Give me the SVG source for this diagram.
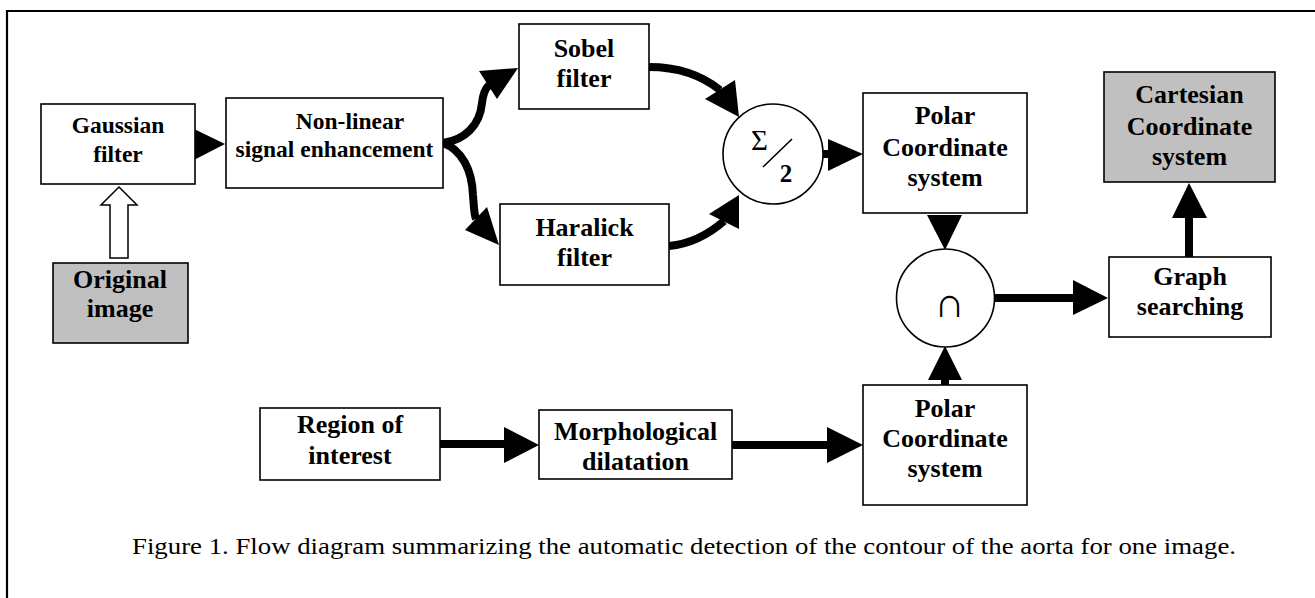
<svg xmlns="http://www.w3.org/2000/svg" width="1315" height="598" viewBox="0 0 1315 598">
<style>
.box{fill:#fff;stroke:#000;stroke-width:1.6}
.grey{fill:#c0c0c0;stroke:#000;stroke-width:1.6}
.lbl{font-family:'Liberation Serif','Times New Roman',serif;font-weight:bold;font-size:26px;text-anchor:middle;fill:#000}
.sm{font-size:23.5px}
.cap{font-family:'Liberation Serif','Times New Roman',serif;font-size:24px;fill:#000}
.sym{font-family:'Liberation Serif','DejaVu Serif',serif;text-anchor:middle;fill:#000}
.wire{fill:none;stroke:#000;stroke-width:8}
.head{fill:#000;stroke:none}
.circ{fill:#fff;stroke:#000;stroke-width:1.6}
</style>
<rect width="1315" height="598" fill="#fff"/>
<g id="frame"><path d="M7,598 V11 H1315" fill="none" stroke="#000" stroke-width="2.2"/></g>

<g id="connectors">
<polygon class="head" points="190,127 225,144 190,162"/>
<polygon points="110,258 128,258 128,205 137,205 119,187 101,205 110,205" fill="#fff" stroke="#000" stroke-width="1.5"/>
<path class="wire" d="M443,143 C465,140 480,125 482,103 C483,93 485,89 489,85"/>
<polygon class="head" points="479,71 518,68 497,99"/>
<path class="wire" d="M443,143 C462,150 472,170 473,195 C474,208 474,214 476,219"/>
<polygon class="head" points="465,230 487,207 499,245"/>
<path class="wire" d="M649,67 C675,67 700,74 720,90"/>
<polygon class="head" points="705,99 735,80 739,117"/>
<path class="wire" d="M669,246 C690,244 708,235 724,221"/>
<polygon class="head" points="709,214 739,195 739,229"/>
<path class="wire" d="M823,154 H830"/>
<polygon class="head" points="828,139 863,154 828,171"/>
<polygon class="head" points="927,215 962,215 945,250"/>
<path class="wire" d="M995,298 H1075"/>
<polygon class="head" points="1073,280 1108,298 1073,315"/>
<path class="wire" d="M1189,257 V215"/>
<polygon class="head" points="1172,218 1207,218 1189,183"/>
<path class="wire" d="M945,385 V377"/>
<polygon class="head" points="928,380 962,380 945,346"/>
<path class="wire" d="M440,444 H506"/>
<polygon class="head" points="504,427 539,445 504,463"/>
<path class="wire" d="M732,445 H829"/>
<polygon class="head" points="827,427 863,445 827,463"/>
</g>

<g id="gaussian"><rect class="box" x="41" y="104" width="154" height="80"/>
<text class="lbl sm" x="118" y="133">Gaussian</text><text class="lbl sm" x="118" y="162">filter</text></g>

<g id="original"><rect class="grey" x="53" y="263" width="135" height="80"/>
<text class="lbl" x="120" y="288">Original</text><text class="lbl" x="120" y="317">image</text></g>

<g id="nonlinear"><rect class="box" x="226" y="98" width="217" height="90"/>
<text class="lbl sm" x="350" y="129">Non-linear</text><text class="lbl sm" x="334.5" y="157">signal enhancement</text></g>

<g id="sobel"><rect class="box" x="519" y="24" width="130" height="85"/>
<text class="lbl" x="584" y="57">Sobel</text><text class="lbl" x="584" y="87">filter</text></g>

<g id="haralick"><rect class="box" x="500" y="204" width="169" height="81"/>
<text class="lbl" x="584.5" y="236">Haralick</text><text class="lbl" x="584.5" y="266">filter</text></g>

<g id="sum"><circle class="circ" cx="773" cy="154" r="50"/>
<text class="sym" x="759.5" y="150" font-size="29">Σ</text>
<line x1="763" y1="167" x2="792" y2="139" stroke="#000" stroke-width="1.6"/>
<text class="sym" x="786" y="182" font-weight="bold" font-size="25">2</text></g>

<g id="polar1"><rect class="box" x="863" y="93" width="164" height="120"/>
<text class="lbl" x="945" y="124">Polar</text><text class="lbl" x="945" y="156">Coordinate</text><text class="lbl" x="945" y="186">system</text></g>

<g id="intersect"><circle class="circ" cx="945.5" cy="298" r="49"/>
<text class="sym" x="949.5" y="317" font-size="42">∩</text></g>

<g id="cartesian"><rect class="grey" x="1104" y="72" width="171" height="110"/>
<text class="lbl" x="1189.5" y="103">Cartesian</text><text class="lbl" x="1189.5" y="135">Coordinate</text><text class="lbl" x="1189.5" y="165">system</text></g>

<g id="graph"><rect class="box" x="1109" y="257" width="162" height="80"/>
<text class="lbl" x="1190" y="285">Graph</text><text class="lbl" x="1190" y="315">searching</text></g>

<g id="roi"><rect class="box" x="260" y="408" width="180" height="72"/>
<text class="lbl" x="350" y="433">Region of</text><text class="lbl" x="350" y="464">interest</text></g>

<g id="morph"><rect class="box" x="539" y="410" width="193" height="69"/>
<text class="lbl" x="635.5" y="440">Morphological</text><text class="lbl" x="635.5" y="470">dilatation</text></g>

<g id="polar2"><rect class="box" x="863" y="385" width="164" height="120"/>
<text class="lbl" x="945" y="417">Polar</text><text class="lbl" x="945" y="447">Coordinate</text><text class="lbl" x="945" y="477">system</text></g>

<g id="caption"><text class="cap" x="132" y="554" textLength="1104" lengthAdjust="spacingAndGlyphs">Figure 1. Flow diagram summarizing the automatic detection of the contour of the aorta for one image.</text></g>
</svg>
